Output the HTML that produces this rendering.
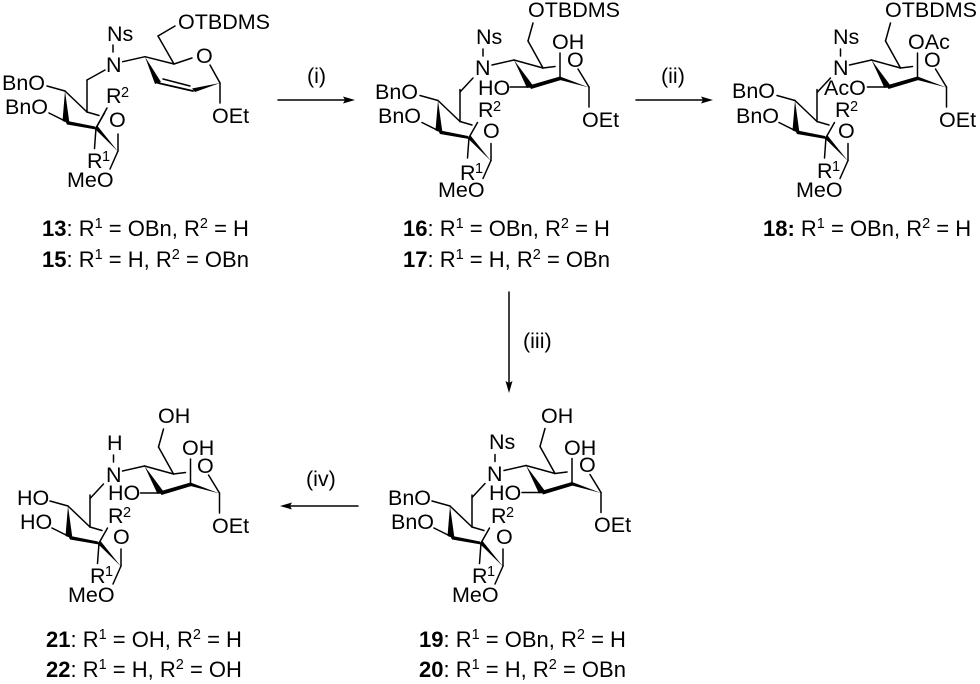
<!DOCTYPE html>
<html><head><meta charset="utf-8"><style>
html,body{margin:0;padding:0;background:#fff}
svg{display:block}
text{font-family:"Liberation Sans",sans-serif;font-size:21.5px;fill:#000}
.c{font-size:22px}
.s{font-size:14.5px}
line{stroke:#000;stroke-width:1.5;stroke-linecap:round}
polygon{fill:#000}
</style></head><body>
<svg xmlns="http://www.w3.org/2000/svg" width="980" height="684" viewBox="0 0 980 684">
<defs>
<g id="sugar">
<line x1="87" y1="80" x2="87" y2="112"/><line x1="87" y1="112" x2="99" y2="115.5"/>
<line x1="47" y1="86" x2="65" y2="91"/><line x1="49" y1="113" x2="65" y2="121"/>
<line x1="65" y1="91" x2="87" y2="112"/>
<polygon points="65,91 62.5,121 69.5,123.5"/>
<polygon points="65,120.5 95,126.5 96,129.5 67,124.5"/>
<polygon points="94.5,128.5 97.5,126 118,151.5"/>
<line x1="96" y1="128" x2="104.5" y2="113"/>
<line x1="96" y1="128" x2="94.5" y2="148.5"/>
<line x1="118" y1="134" x2="118" y2="151"/>
<line x1="118" y1="151" x2="110" y2="169"/>
</g>
<g id="top">
<line x1="483" y1="49" x2="483" y2="56"/>
<line x1="492" y1="65" x2="514" y2="60"/>
<polygon points="514,60 527,88 533,85.5"/>
<line x1="514" y1="60" x2="543" y2="68"/><line x1="543" y1="68" x2="555" y2="66.5"/>
<line x1="543" y1="68" x2="528" y2="41"/><line x1="528" y1="41" x2="533" y2="23"/>
<line x1="560" y1="53" x2="560" y2="78"/>
<line x1="510" y1="87" x2="530" y2="87"/>
<polygon points="529,85.5 560,76.5 561,80 531,89"/>
<polygon points="560,76.5 560,80 589,87.5"/>
<line x1="589" y1="87" x2="589" y2="107"/>
<line x1="578" y1="69" x2="589" y2="87"/>
<line x1="473" y1="78" x2="460" y2="92"/>
</g>
</defs>

<!-- 13 -->
<use href="#sugar"/>
<line x1="96" y1="128" x2="107" y2="108"/>
<line x1="105" y1="70" x2="87" y2="80"/>
<line x1="113" y1="45" x2="113" y2="52"/>
<line x1="122.7" y1="61.7" x2="145" y2="56.7"/>
<polygon points="145,56.7 155,84 161,82"/>
<line x1="145" y1="56.7" x2="174" y2="64"/><line x1="174" y1="64" x2="192" y2="58"/>
<line x1="174" y1="64" x2="158" y2="36"/><line x1="158" y1="36" x2="175" y2="26"/>
<line x1="210" y1="65" x2="220" y2="83"/>
<polygon points="220,83 192,88.5 195,92"/>
<line x1="220" y1="83" x2="220" y2="103"/>
<line x1="158" y1="83" x2="193" y2="91" style="stroke-width:1.8"/>
<line x1="163" y1="79" x2="190" y2="86"/>
<text x="178" y="29">OTBDMS</text>
<text x="107" y="41">Ns</text>
<text x="106" y="72">N</text>
<text x="196" y="63">O</text>
<text x="212" y="123">OEt</text>
<text x="2" y="90">BnO</text>
<text x="5" y="114">BnO</text>
<text x="106" y="103">R</text><text class="s" x="121" y="97">2</text>
<text x="109" y="127">O</text>
<text x="87" y="168">R</text><text class="s" x="102" y="161">1</text>
<text x="67" y="187">MeO</text>

<!-- 16 -->
<use href="#sugar" transform="translate(373,9.5)"/>
<use href="#top"/>
<text x="528" y="17">OTBDMS</text>
<text x="476" y="44">Ns</text>
<text x="475" y="75">N</text>
<text x="552" y="49">OH</text>
<text x="567" y="67">O</text>
<text x="478" y="95">HO</text>
<text x="582" y="127">OEt</text>
<text x="375" y="99">BnO</text>
<text x="378" y="123">BnO</text>
<text x="478" y="117">R</text><text class="s" x="493" y="111">2</text>
<text x="483" y="138">O</text>
<text x="460" y="180">R</text><text class="s" x="475" y="173">1</text>
<text x="438" y="197">MeO</text>

<!-- 18 -->
<use href="#sugar" transform="translate(730,9.5)"/>
<use href="#top" transform="translate(357.5,0)"/>
<text x="885" y="17">OTBDMS</text>
<text x="833" y="44">Ns</text>
<text x="833" y="75">N</text>
<text x="908" y="49">OAc</text>
<text x="924" y="67">O</text>
<text x="824" y="95">AcO</text>
<text x="939" y="127">OEt</text>
<text x="732" y="98">BnO</text>
<text x="736" y="123">BnO</text>
<text x="835" y="117">R</text><text class="s" x="850" y="111">2</text>
<text x="838" y="138">O</text>
<text x="817" y="178">R</text><text class="s" x="832" y="171">1</text>
<text x="796" y="197">MeO</text>

<!-- 19 -->
<use href="#sugar" transform="translate(385,415)"/>
<use href="#top" transform="translate(12,405.5)"/>
<text x="541" y="423">OH</text>
<text x="489" y="449">Ns</text>
<text x="487" y="481">N</text>
<text x="564" y="455">OH</text>
<text x="579" y="472">O</text>
<text x="489" y="500">HO</text>
<text x="594" y="532">OEt</text>
<text x="388" y="505">BnO</text>
<text x="391" y="529">BnO</text>
<text x="491" y="523">R</text><text class="s" x="506" y="517">2</text>
<text x="496" y="544">O</text>
<text x="472" y="583">R</text><text class="s" x="487" y="576">1</text>
<text x="452" y="602">MeO</text>

<!-- 21 -->
<use href="#sugar" transform="translate(3,415)"/>
<use href="#top" transform="translate(-369.5,406)"/>
<text x="158" y="423">OH</text>
<text x="107" y="450">H</text>
<text x="106" y="482">N</text>
<text x="182" y="455">OH</text>
<text x="197" y="473">O</text>
<text x="108" y="500">HO</text>
<text x="212" y="533">OEt</text>
<text x="17" y="505">HO</text>
<text x="20" y="529">HO</text>
<text x="108" y="523">R</text><text class="s" x="123" y="517">2</text>
<text x="113" y="544">O</text>
<text x="90" y="583">R</text><text class="s" x="105" y="576">1</text>
<text x="68" y="602">MeO</text>

<!-- arrows -->
<line x1="278" y1="100" x2="346" y2="100"/><polygon points="355,100 343,96.5 345,100 343,103.5"/>
<text x="307" y="83">(i)</text>
<line x1="636" y1="100" x2="704" y2="100"/><polygon points="713,100 701,96.5 703,100 701,103.5"/>
<text x="661" y="83">(ii)</text>
<line x1="509" y1="292" x2="509" y2="384"/><polygon points="509,393 505.5,381 509,383 512.5,381"/>
<text x="523" y="348">(iii)</text>
<line x1="358" y1="506" x2="289" y2="506"/><polygon points="280,506 292,502.5 290,506 292,509.5"/>
<text x="306" y="486">(iv)</text>

<!-- captions -->
<text class="c" x="42" y="236"><tspan font-weight="bold">13</tspan>: R<tspan class="s" dy="-8">1</tspan><tspan dy="8"> = OBn, R</tspan><tspan class="s" dy="-8">2</tspan><tspan dy="8"> = H</tspan></text>
<text class="c" x="42" y="267"><tspan font-weight="bold">15</tspan>: R<tspan class="s" dy="-8">1</tspan><tspan dy="8"> = H, R</tspan><tspan class="s" dy="-8">2</tspan><tspan dy="8"> = OBn</tspan></text>
<text class="c" x="403" y="236"><tspan font-weight="bold">16</tspan>: R<tspan class="s" dy="-8">1</tspan><tspan dy="8"> = OBn, R</tspan><tspan class="s" dy="-8">2</tspan><tspan dy="8"> = H</tspan></text>
<text class="c" x="403" y="267"><tspan font-weight="bold">17</tspan>: R<tspan class="s" dy="-8">1</tspan><tspan dy="8"> = H, R</tspan><tspan class="s" dy="-8">2</tspan><tspan dy="8"> = OBn</tspan></text>
<text class="c" x="763" y="236"><tspan font-weight="bold">18:</tspan> R<tspan class="s" dy="-8">1</tspan><tspan dy="8"> = OBn, R</tspan><tspan class="s" dy="-8">2</tspan><tspan dy="8"> = H</tspan></text>
<text class="c" x="46" y="647"><tspan font-weight="bold">21</tspan>: R<tspan class="s" dy="-8">1</tspan><tspan dy="8"> = OH, R</tspan><tspan class="s" dy="-8">2</tspan><tspan dy="8"> = H</tspan></text>
<text class="c" x="46" y="677"><tspan font-weight="bold">22</tspan>: R<tspan class="s" dy="-8">1</tspan><tspan dy="8"> = H, R</tspan><tspan class="s" dy="-8">2</tspan><tspan dy="8"> = OH</tspan></text>
<text class="c" x="419" y="647"><tspan font-weight="bold">19</tspan>: R<tspan class="s" dy="-8">1</tspan><tspan dy="8"> = OBn, R</tspan><tspan class="s" dy="-8">2</tspan><tspan dy="8"> = H</tspan></text>
<text class="c" x="419" y="677"><tspan font-weight="bold">20</tspan>: R<tspan class="s" dy="-8">1</tspan><tspan dy="8"> = H, R</tspan><tspan class="s" dy="-8">2</tspan><tspan dy="8"> = OBn</tspan></text>
</svg>
</body></html>
